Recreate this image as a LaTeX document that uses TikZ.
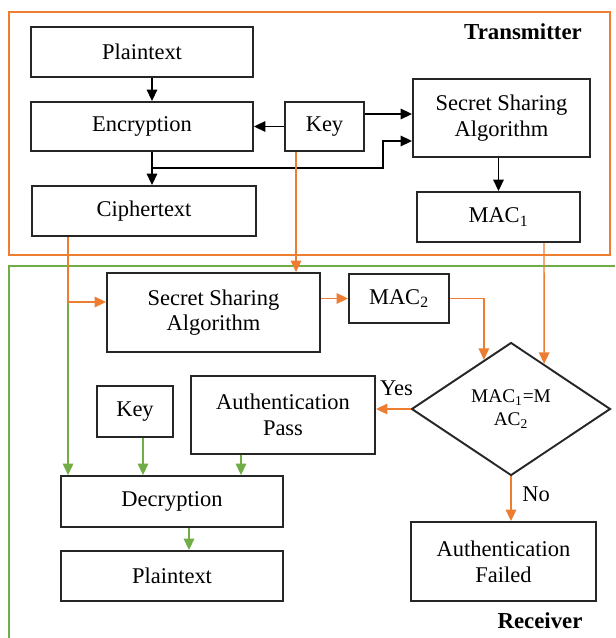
\documentclass[tikz,border=0pt]{standalone}
\usepackage{fontspec}
\setmainfont{Liberation Serif}
\usetikzlibrary{arrows.meta,positioning,calc,shapes.geometric}
\definecolor{txorange}{HTML}{ED7D31}
\definecolor{rxgreen}{HTML}{70AD47}
\tikzset{font=\fontsize{12.8}{14.6}\selectfont}
\tikzset{box/.style={draw=black!85,line width=1.1pt,align=center,inner sep=0pt}}
\tikzset{boxsize/.style 2 args={minimum width=#1cm,minimum height=#2cm}}
\tikzset{arr/.style={line width=0.8pt,-{Triangle[length=6.5pt,width=6pt]}}}
\tikzset{tag/.style={font=\bfseries\fontsize{13}{15}\selectfont}}

\begin{document}
\begin{tikzpicture}[x=0.02cm,y=-0.02cm]
  \useasboundingbox (0,0) rectangle (615,638);

  % frames
  \draw[txorange,line width=0.9pt] (9,12) rectangle (610,255);
  \draw[rxgreen,line width=0.9pt] (615,266) -- (9,266) -- (9,638);
  \node[tag] (tx) at (523,32) {Transmitter};
  \node[tag] (rx) at (540,621) {Receiver};

  % transmitter side
  \node[box,boxsize={4.44}{1.0}] (pt1) at (142,52) {Plaintext};
  \node[box,boxsize={4.44}{0.98}] (enc) at (142,126.5) {Encryption};
  \node[box,boxsize={1.58}{0.98}] (key1) at (324.5,126.5) {Key};
  \node[box,boxsize={3.54}{1.56}] (ssa1) at (501.5,118) {Secret Sharing\\Algorithm};
  \node[box,boxsize={4.48}{1.0}] (cip) at (144,211) {Ciphertext};
  \node[box,boxsize={3.26}{1.0}] (mac1) at (498.5,217) {MAC\textsubscript{1}};

  \draw[arr] ($(pt1.south)+(10,0)$) -- ($(enc.north)+(10,0)$);
  \draw[arr] (key1.west) -- (enc.east);
  \draw[arr] ($(key1.east)+(0,-12.5)$) -- ($(ssa1.west)+(0,-4)$);
  \draw[arr] ($(enc.south)+(10,0)$) -- ($(cip.north)+(8,0)$);
  \coordinate (br) at ($(enc.south)+(10,16)$);
  \draw[arr] (br) -| (383,141) -- ($(ssa1.west)+(0,23)$);
  \draw[arr] (mac1.north |- ssa1.south) -- (mac1.north);

  % receiver side
  \node[box,boxsize={4.26}{1.58}] (ssa2) at (213.5,312.5) {Secret Sharing\\Algorithm};
  \node[box,boxsize={2.0}{0.98}] (mac2) at (399,298.5) {MAC\textsubscript{2}};
  \node[box,diamond,boxsize={3.98}{2.66},font=\fontsize{11}{13}\selectfont] (dia) at (511,409) {MAC\textsubscript{1}=M\\AC\textsubscript{2}};
  \node[box,boxsize={1.52}{1.02}] (key2) at (135,411.5) {Key};
  \node[box,boxsize={3.68}{1.56}] (pass) at (283,415) {Authentication\\Pass};
  \node[box,boxsize={4.44}{1.02}] (dec) at (172,501.5) {Decryption};
  \node[box,boxsize={4.44}{1.0}] (pt2) at (172,576) {Plaintext};
  \node[box,boxsize={3.7}{1.58}] (fail) at (503.5,561.5) {Authentication\\Failed};

  % orange links
  \coordinate (c1) at ($(cip.south west)+(37,0)$);
  \coordinate (jn) at ($(c1)+(0,66)$);
  \draw[arr,txorange] (c1) |- ($(ssa2.west)+(0,-10.5)$);
  \coordinate (k1) at ($(key1.south west)+(12,0)$);
  \draw[arr,txorange] (k1) -- (k1 |- ssa2.north);
  \draw[arr,txorange] (mac2.west -| ssa2.east) -- (mac2.west);
  \draw[arr,txorange] (mac2.east) -| ($(dia.north)!0.27!(dia.west)$);
  \draw[arr,txorange] ($(mac1.south)+(45.5,0)$) -- ($(dia.north)!0.33!(dia.east)$);
  \draw[arr,txorange] (dia.west) -- (dia.west -| pass.east);
  \draw[arr,txorange] (dia.south) -- (dia.south |- fail.north);
  \node (yes) at ($(dia.west)+(-14,-21)$) {Yes};
  \node (no) at ($(dia.south)+(25,18)$) {No};

  % green links
  \draw[arr,rxgreen] (jn) -- (jn |- dec.north);
  \draw[arr,rxgreen] ($(key2.south)+(8,0)$) -- ($(dec.north)+(-29,0)$);
  \draw[arr,rxgreen] ($(pass.south)+(-42,0)$) -- ($(dec.north)+(69,0)$);
  \draw[arr,rxgreen] ($(dec.south)+(17,0)$) -- ($(pt2.north)+(17,0)$);
\end{tikzpicture}
\end{document}
